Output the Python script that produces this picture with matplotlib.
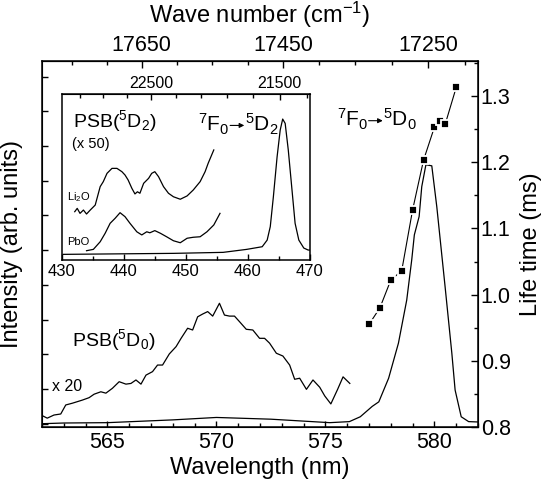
import numpy as np
import matplotlib
matplotlib.use('Agg')
import matplotlib.pyplot as plt
from matplotlib.ticker import MultipleLocator, FixedLocator, NullFormatter
from matplotlib.transforms import IdentityTransform

plt.rcParams['font.family'] = 'Liberation Sans'
plt.rcParams['mathtext.fontset'] = 'custom'
plt.rcParams['mathtext.rm'] = 'Liberation Sans'
plt.rcParams['mathtext.it'] = 'Liberation Sans:italic'
plt.rcParams['mathtext.bf'] = 'Liberation Sans:bold'

# 7F0 -> 5D0 spectrum (x 1)
wl_main = [562.0, 563.0, 565.0, 568.0, 570.0, 572.5, 575.2, 576.1, 576.6, 577.15, 577.45,
           577.9, 578.35, 578.73, 578.96, 579.08, 579.30, 579.42, 579.61, 579.88, 580.11,
           580.49, 580.80, 580.95, 581.23, 581.57, 582.0]
int_main = [0.000, 0.002, 0.003, 0.011, 0.018, 0.013, 0.003, 0.006, 0.020, 0.050, 0.063,
            0.131, 0.232, 0.356, 0.472, 0.544, 0.597, 0.683, 0.746, 0.743, 0.625,
            0.395, 0.203, 0.097, 0.020, 0.006, 0.005]

# PSB(5D0), x 20
wl_psb = [561.86, 562.24, 562.55, 562.86, 563.09, 563.39, 563.85, 564.16, 564.39, 564.70,
          564.93, 565.23, 565.54, 565.85, 566.08, 566.31, 566.54, 566.77, 567.07, 567.30,
          567.53, 567.84, 568.15, 568.38, 568.68, 568.91, 569.14, 569.37, 569.60, 569.83,
          570.14, 570.37, 570.60, 570.83, 571.06, 571.37, 571.67, 571.98, 572.21, 572.44,
          572.75, 573.05, 573.36, 573.59, 573.82, 574.13, 574.43, 574.74, 574.97, 575.25,
          575.56, 575.81, 576.12]
int_psb = [0.028, 0.016, 0.025, 0.028, 0.054, 0.059, 0.068, 0.075, 0.085, 0.092,
           0.088, 0.102, 0.121, 0.114, 0.116, 0.126, 0.114, 0.140, 0.150, 0.169,
           0.169, 0.201, 0.222, 0.246, 0.275, 0.270, 0.308, 0.316, 0.323, 0.310,
           0.347, 0.313, 0.310, 0.310, 0.294, 0.272, 0.270, 0.246, 0.246, 0.232,
           0.203, 0.195, 0.169, 0.128, 0.131, 0.099, 0.126, 0.105, 0.080, 0.057,
           0.099, 0.135, 0.116]

# life time
wl_life = [577.0, 577.5, 578.0, 578.5, 579.0, 579.5, 580.0, 580.25, 580.5, 581.0]
life = [0.955, 0.980, 1.022, 1.036, 1.128, 1.203, 1.253, 1.263, 1.258, 1.313]

# inset: 7F0 -> 5D2
wl_d2 = [430.26, 448.0, 456.0, 459.8, 462.3, 463.1, 463.6, 464.1, 464.7, 465.2, 465.6,
         466.0, 466.5, 467.1, 467.6, 468.2, 469.0, 469.7, 470.0]
int_d2 = [0.034, 0.040, 0.046, 0.064, 0.080, 0.120, 0.201, 0.381, 0.622, 0.783, 0.849,
          0.823, 0.663, 0.422, 0.221, 0.120, 0.072, 0.060, 0.060]

# inset: PSB(5D2) x 50, Li2O
wl_li = [432.1, 432.5, 432.95, 433.5, 434.0, 434.6, 435.4, 436.2, 436.7, 437.3, 438.1,
         438.9, 439.7, 440.2, 440.7, 441.3, 441.8, 442.2, 442.6, 443.2, 444.0, 444.5,
         445.0, 445.6, 446.4, 447.2, 448.0, 449.1, 450.2, 451.2, 452.3, 453.1, 453.6, 454.5]
int_li = [0.291, 0.311, 0.281, 0.301, 0.277, 0.301, 0.331, 0.442, 0.472, 0.522, 0.552,
          0.552, 0.532, 0.512, 0.482, 0.432, 0.398, 0.411, 0.402, 0.462, 0.492, 0.522,
          0.532, 0.502, 0.442, 0.402, 0.381, 0.366, 0.386, 0.422, 0.472, 0.532, 0.583, 0.663]

# inset: PSB(5D2) x 50, PbO
wl_pb = [434.0, 435.1, 436.2, 437.0, 437.8, 438.6, 439.4, 440.2, 441.0, 442.1, 442.9,
         443.7, 444.2, 445.0, 445.9, 446.9, 448.0, 449.1, 450.2, 451.2, 452.3, 453.4,
         454.5, 455.5]
int_pb = [0.056, 0.064, 0.110, 0.161, 0.221, 0.251, 0.285, 0.261, 0.221, 0.170, 0.151,
          0.170, 0.164, 0.177, 0.161, 0.140, 0.116, 0.104, 0.131, 0.137, 0.140, 0.170,
          0.211, 0.281]

W, H = 547, 486
fig = plt.figure(figsize=(W / 100, H / 100), dpi=100)


def transition(axes, x, y, lower, upper, size):
    # "7F0 -> 5Dj" with a short arrow at sub/superscript height
    t1 = axes.text(x, y, lower, fontsize=size, ha='left', va='baseline')
    fig.canvas.draw()
    bb = t1.get_window_extent()
    x0, y0 = axes.transData.transform((x, y))
    em = size * fig.dpi / 72
    xa = bb.x1 + 0.02 * em
    ya = y0 + 0.3 * em
    axes.annotate('', xy=(xa + 0.68 * em, ya), xytext=(xa, ya),
                  xycoords='figure pixels', textcoords='figure pixels',
                  arrowprops=dict(arrowstyle='-|>', lw=0.8, color='black',
                                  mutation_scale=7, shrinkA=0, shrinkB=0))
    fig.text(xa + 0.7 * em, y0, upper, fontsize=size, ha='left', va='baseline',
             transform=IdentityTransform())


# main axes
ax = fig.add_axes([42 / W, 59 / H, 436 / W, 366 / H])
ax.plot(wl_main, int_main, color='black', lw=0.9)
ax.plot(wl_psb, int_psb, color='black', lw=0.9)
ax.set_xlim(562, 582)
ax.set_ylim(-0.0095, 1.045)
ax.xaxis.set_major_locator(MultipleLocator(5))
ax.xaxis.set_minor_locator(MultipleLocator(1))
ax.yaxis.set_major_locator(MultipleLocator(0.1))
ax.yaxis.set_major_formatter(NullFormatter())
ax.tick_params(which='both', direction='in', top=False, right=False, labelsize=15.5, width=1)
ax.tick_params(which='major', length=4.5)
ax.tick_params(which='minor', length=3)
ax.set_xlabel('Wavelength (nm)', fontsize=17, labelpad=3)
ax.set_ylabel('Intensity (arb. units)', fontsize=17, labelpad=10)
for s in ax.spines.values():
    s.set_linewidth(1.1)

ax.text(563.38, 0.241, r'PSB($^5$D$_0$)', fontsize=14, ha='left', va='center')
ax.text(562.46, 0.106, 'x 20', fontsize=11.5, ha='left', va='center')

# life time axis
ax2 = ax.twinx()
ax2.plot(wl_life, life, color='black', lw=0.8, marker='s', ms=6.4,
         mfc='black', mec='white', mew=1.3)
ax2.set_ylim(0.8, 1.353)
ax2.yaxis.set_major_locator(MultipleLocator(0.1))
ax2.yaxis.set_minor_locator(MultipleLocator(0.05))
ax2.tick_params(which='both', direction='in', labelsize=15.5, pad=2, width=1)
ax2.tick_params(which='major', length=5)
ax2.tick_params(which='minor', length=3)
ax2.set_ylabel('Life time (ms)', fontsize=17, labelpad=7)

# top axis: wave number
top = ax.secondary_xaxis('top', functions=(lambda x: 1e7 / x, lambda x: 1e7 / x))
top.xaxis.set_major_locator(FixedLocator([17650, 17450, 17250]))
top.xaxis.set_minor_locator(FixedLocator(np.arange(17200, 17801, 50)))
top.tick_params(which='both', direction='in', labelsize=15.5, width=1)
top.tick_params(which='major', length=5)
top.tick_params(which='minor', length=3)
top.set_xlabel('Wave number (cm$^{\\mathregular{-1}}$)', fontsize=17, labelpad=9)

# inset
axi = fig.add_axes([61.7 / W, (H - 260) / H, 248.3 / W, 166 / H])
axi.set_facecolor('white')
axi.plot(wl_d2, int_d2, color='black', lw=0.9)
axi.plot(wl_li, int_li, color='black', lw=0.9)
axi.plot(wl_pb, int_pb, color='black', lw=0.9)
axi.set_xlim(430, 470)
axi.set_ylim(0, 1)
axi.xaxis.set_major_locator(MultipleLocator(10))
axi.xaxis.set_minor_locator(MultipleLocator(5))
axi.set_yticks([])
axi.tick_params(which='both', direction='in', top=False, labelsize=12, pad=3, width=1)
axi.tick_params(which='major', length=4)
axi.tick_params(which='minor', length=3)
for s in axi.spines.values():
    s.set_linewidth(1.1)

topi = axi.secondary_xaxis('top', functions=(lambda x: 1e7 / x, lambda x: 1e7 / x))
topi.xaxis.set_major_locator(FixedLocator([22500, 21500]))
topi.xaxis.set_minor_locator(FixedLocator(np.arange(21300, 23301, 200)))
topi.tick_params(which='both', direction='in', labelsize=11.5, pad=2, width=1)
topi.tick_params(which='major', length=4)
topi.tick_params(which='minor', length=3)

axi.text(431.8, 0.80, r'PSB($^5$D$_2$)', fontsize=14, ha='left', va='baseline')
axi.text(431.7, 0.675, '(x 50)', fontsize=10.5, ha='left', va='baseline')
axi.text(430.9, 0.36, r'Li$_2$O', fontsize=8, ha='left', va='baseline')
axi.text(430.9, 0.09, 'PbO', fontsize=8, ha='left', va='baseline')

transition(ax, 575.52, 0.855, r'$^7$F$_0$', r'$^5$D$_0$', 15)
transition(axi, 452.0, 0.773, r'$^7$F$_0$', r'$^5$D$_2$', 15)

fig.savefig('out.png', dpi=100)
